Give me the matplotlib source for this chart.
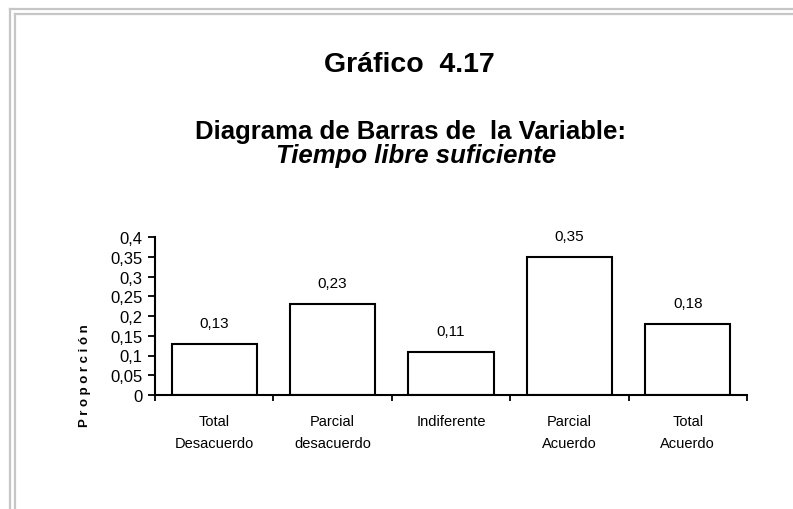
import matplotlib
matplotlib.use("Agg")
import matplotlib.pyplot as plt
from matplotlib.lines import Line2D

categories = ["Total\nDesacuerdo", "Parcial\ndesacuerdo", "Indiferente", "Parcial\nAcuerdo", "Total\nAcuerdo"]
values = [0.13, 0.23, 0.11, 0.35, 0.18]
value_labels = ["0,13", "0,23", "0,11", "0,35", "0,18"]
yticks = [0, 0.05, 0.1, 0.15, 0.2, 0.25, 0.3, 0.35, 0.4]
ytick_labels = ["0", "0,05", "0,1", "0,15", "0,2", "0,25", "0,3", "0,35", "0,4"]

plt.rcParams['font.family'] = ['Liberation Sans', 'DejaVu Sans']

W, H = 793, 510
fig = plt.figure(figsize=(W / 100, H / 100), dpi=100)

def fx(px):
    return px / W
def fy(py):
    return 1 - py / H

# double grey frame
for off in (10, 15):
    fig.add_artist(Line2D([fx(off), 1.0], [fy(off), fy(off)], color="#c6c6c6", lw=1.6, transform=fig.transFigure))
    fig.add_artist(Line2D([fx(off), fx(off)], [fy(off), 0.0], color="#c6c6c6", lw=1.6, transform=fig.transFigure))

ax = fig.add_axes([fx(155), fy(396), fx(747) - fx(155), fy(238) - fy(396)])
x = list(range(len(categories)))
ax.bar(x, values, width=0.72, color="white", edgecolor="black", linewidth=1.5)
for xi, v, lab in zip(x, values, value_labels):
    ax.annotate(lab, (xi, v), xytext=(0, 15), textcoords="offset points", ha="center", va="center", fontsize=11)

ax.set_xlim(-0.5, len(categories) - 0.5)
ax.set_ylim(0, 0.4)
ax.set_yticks(yticks)
ax.set_yticklabels(ytick_labels, fontsize=12)
ax.set_xticks([i - 0.5 for i in range(len(categories) + 1)])
ax.set_xticklabels([])
ax.set_xticks(x, minor=True)
ax.set_xticklabels(categories, minor=True, fontsize=10.5, linespacing=1.65)
ax.tick_params(axis="x", which="minor", length=0, pad=14)
ax.tick_params(axis="x", which="major", length=4, width=1.3, direction="out")
ax.tick_params(axis="y", length=5, width=1.3, direction="out", pad=4)
for s in ("top", "right"):
    ax.spines[s].set_visible(False)
for s in ("left", "bottom"):
    ax.spines[s].set_linewidth(1.5)
ax.patch.set_alpha(0)

fig.text(fx(85), fy(376), "P r o p o r c i ó n", rotation=90, ha="center", va="center", fontsize=9.5, fontweight="bold")

fig.text(fx(409), fy(72), "Gráfico  4.17", ha="center", va="baseline", fontsize=20.5, fontweight="bold")
fig.text(fx(410), fy(139), "Diagrama de Barras de  la Variable:", ha="center", va="baseline", fontsize=18.5, fontweight="bold")
fig.text(fx(416), fy(163), "Tiempo libre suficiente", ha="center", va="baseline", fontsize=18.5, fontweight="bold", style="italic")

fig.savefig("out.png", dpi=100, facecolor="white")
